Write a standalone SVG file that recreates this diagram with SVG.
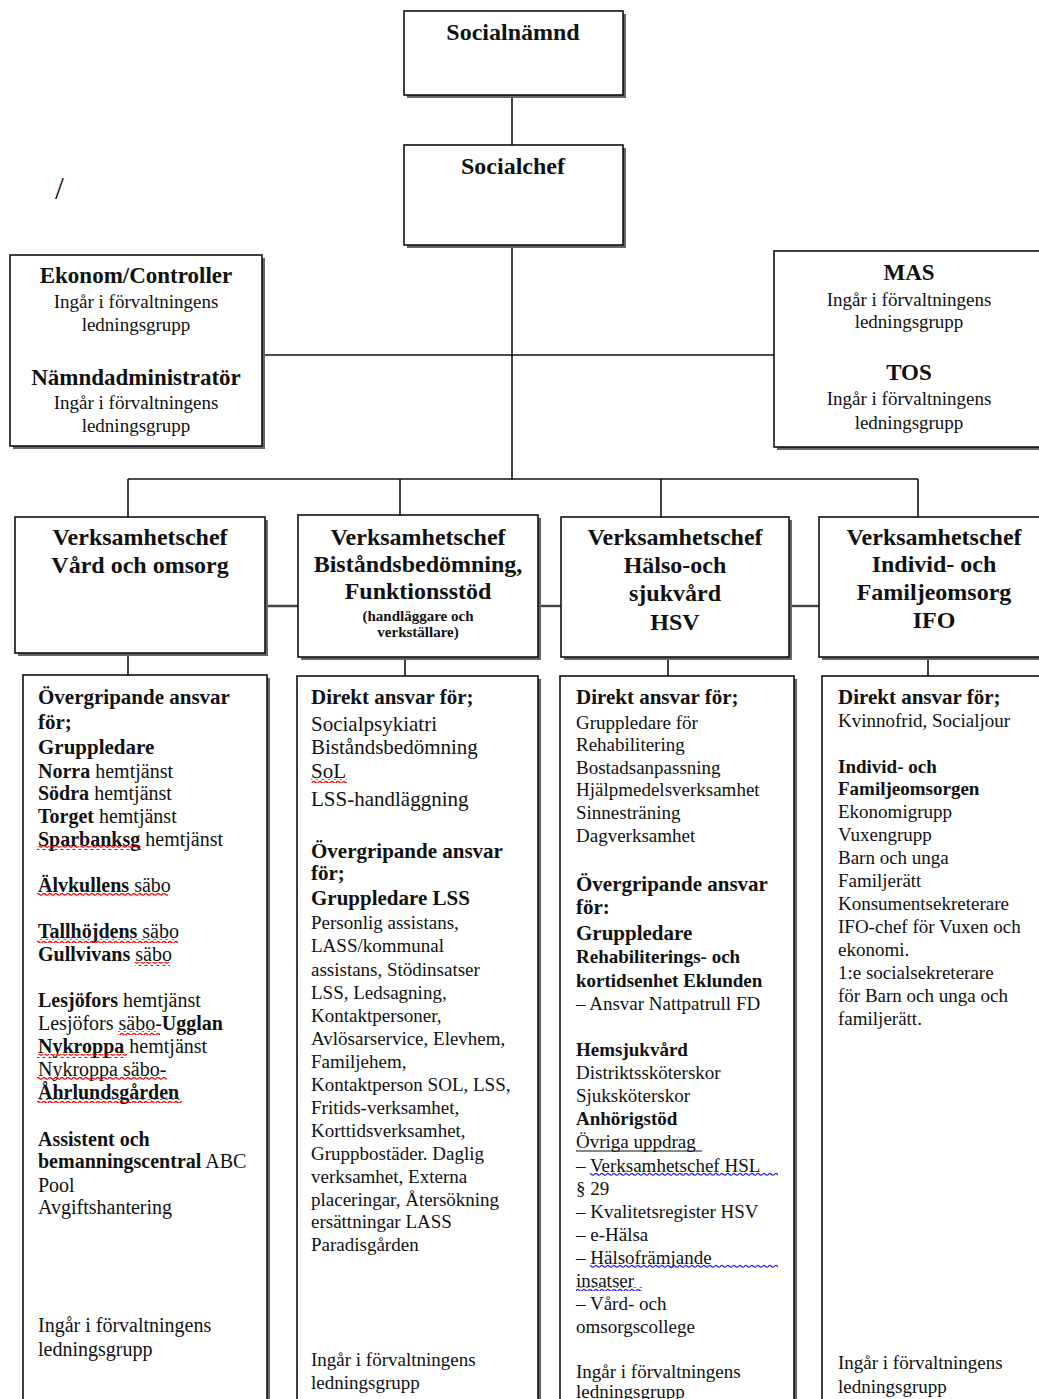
<svg xmlns="http://www.w3.org/2000/svg" width="1039" height="1399" viewBox="0 0 1039 1399">
<style>
text{font-family:"Liberation Serif","Times New Roman",serif;fill:#111}
.hd{font-size:24px;font-weight:bold;text-anchor:middle}
.ht{font-size:23px;font-weight:bold;text-anchor:middle}
.sc{font-size:19px;text-anchor:middle}
.sm{font-size:15px;font-weight:bold;text-anchor:middle}
.bh{font-size:21px;font-weight:bold}
.b{font-weight:bold}
.t{font-size:20px}
.tl{font-size:21px}
.ts{font-size:19px}
.box{fill:#fff;stroke:#111;stroke-width:1.6}
.sh{fill:#666}
.cn line{stroke:#111;stroke-width:1.6}
</style>
<defs>
<pattern id="sqR" width="6" height="4" patternUnits="userSpaceOnUse"><path d="M0,3 Q1.5,0.5 3,2 T6,3" fill="none" stroke="#e00" stroke-width="1.2"/></pattern>
<pattern id="sqB" width="6" height="4" patternUnits="userSpaceOnUse"><path d="M0,3 Q1.5,0.5 3,2 T6,3" fill="none" stroke="#22d" stroke-width="1.2"/></pattern>
</defs>
<rect width="1039" height="1399" fill="#fff"/>

<g class="cn" id="connectors">
<line x1="512" y1="95" x2="512" y2="145"/>
<line x1="512" y1="243" x2="512" y2="480"/>
<line x1="262" y1="355" x2="774" y2="355"/>
<line x1="128" y1="479" x2="918" y2="479"/>
<line x1="128" y1="479" x2="128" y2="517"/>
<line x1="400" y1="479" x2="400" y2="515"/>
<line x1="661" y1="479" x2="661" y2="517"/>
<line x1="918" y1="479" x2="918" y2="517"/>
<line x1="265" y1="606" x2="298" y2="606" style="stroke:#444;stroke-width:2.4"/>
<line x1="538" y1="606" x2="561" y2="606" style="stroke:#444;stroke-width:2.4"/>
<line x1="789" y1="606" x2="819" y2="606" style="stroke:#444;stroke-width:2.4"/>
<line x1="128" y1="653" x2="128" y2="675"/>
<line x1="405" y1="657" x2="405" y2="676"/>
<line x1="668" y1="657" x2="668" y2="676"/>
<line x1="928" y1="657" x2="928" y2="676"/>
</g>

<text x="55" y="199" style="font-size:32px">/</text>

<g id="socialnamnd">
<rect class="sh" x="407" y="14" width="219" height="84"/>
<rect class="box" x="404" y="11" width="219" height="84"/>
<text class="hd" x="513" y="40">Socialnämnd</text>
</g>

<g id="socialchef">
<rect class="sh" x="407" y="148" width="219" height="100"/>
<rect class="box" x="404" y="145" width="219" height="100"/>
<text class="hd" x="513" y="174">Socialchef</text>
</g>

<g id="ekonom">
<rect class="sh" x="13" y="258" width="252" height="191"/>
<rect class="box" x="10" y="255" width="252" height="191"/>
<text class="ht" x="136" y="283">Ekonom/Controller</text>
<text class="sc" x="136" y="308">Ingår i förvaltningens</text>
<text class="sc" x="136" y="331">ledningsgrupp</text>
<text class="ht" x="136" y="385">Nämndadministratör</text>
<text class="sc" x="136" y="409">Ingår i förvaltningens</text>
<text class="sc" x="136" y="432">ledningsgrupp</text>
</g>

<g id="mas">
<rect class="sh" x="777" y="254" width="270" height="196"/>
<rect class="box" x="774" y="251" width="270" height="196"/>
<text class="ht" x="909" y="280">MAS</text>
<text class="sc" x="909" y="306">Ingår i förvaltningens</text>
<text class="sc" x="909" y="328">ledningsgrupp</text>
<text class="ht" x="909" y="380">TOS</text>
<text class="sc" x="909" y="405">Ingår i förvaltningens</text>
<text class="sc" x="909" y="429">ledningsgrupp</text>
</g>

<g id="vc-vard">
<rect class="sh" x="18" y="520" width="250" height="136"/>
<rect class="box" x="15" y="517" width="250" height="136"/>
<text class="hd" x="140" y="545">Verksamhetschef</text>
<text class="hd" x="140" y="573">Vård och omsorg</text>
</g>

<g id="vc-bistand">
<rect class="sh" x="301" y="518" width="240" height="142"/>
<rect class="box" x="298" y="515" width="240" height="142"/>
<text class="hd" x="418" y="545">Verksamhetschef</text>
<text class="hd" x="418" y="572">Biståndsbedömning,</text>
<text class="hd" x="418" y="599">Funktionsstöd</text>
<text class="sm" x="418" y="621">(handläggare och</text>
<text class="sm" x="418" y="637">verkställare)</text>
</g>

<g id="vc-hsv">
<rect class="sh" x="564" y="520" width="228" height="140"/>
<rect class="box" x="561" y="517" width="228" height="140"/>
<text class="hd" x="675" y="545">Verksamhetschef</text>
<text class="hd" x="675" y="573">Hälso-och</text>
<text class="hd" x="675" y="601">sjukvård</text>
<text class="hd" x="675" y="630">HSV</text>
</g>

<g id="vc-ifo">
<rect class="sh" x="822" y="520" width="225" height="140"/>
<rect class="box" x="819" y="517" width="225" height="140"/>
<text class="hd" x="934" y="545">Verksamhetschef</text>
<text class="hd" x="934" y="572">Individ- och</text>
<text class="hd" x="934" y="600">Familjeomsorg</text>
<text class="hd" x="934" y="628">IFO</text>
</g>

<g id="col-vard">
<rect class="sh" x="26" y="678" width="244" height="740"/>
<rect class="box" x="23" y="675" width="244" height="740"/>
<text class="bh" x="38" y="704">Övergripande ansvar</text>
<text class="bh" x="38" y="729">för;</text>
<text class="bh" x="38" y="754">Gruppledare</text>
<text class="t" x="38" y="778"><tspan class="b">Norra</tspan> hemtjänst</text>
<text class="t" x="38" y="800"><tspan class="b">Södra</tspan> hemtjänst</text>
<text class="t" x="38" y="823"><tspan class="b">Torget</tspan> hemtjänst</text>
<text class="t" x="38" y="846"><tspan class="b">Sparbanksg</tspan> hemtjänst</text>
<text class="t" x="38" y="892"><tspan class="b">Älvkullens</tspan> säbo</text>
<text class="t" x="38" y="938"><tspan class="b">Tallhöjdens</tspan> säbo</text>
<text class="t" x="38" y="961"><tspan class="b">Gullvivans</tspan> säbo</text>
<text class="t" x="38" y="1007"><tspan class="b">Lesjöfors</tspan> hemtjänst</text>
<text class="t" x="38" y="1030">Lesjöfors säbo-<tspan class="b">Ugglan</tspan></text>
<text class="t" x="38" y="1053"><tspan class="b">Nykroppa</tspan> hemtjänst</text>
<text class="t" x="38" y="1076">Nykroppa säbo-</text>
<text class="t b" x="38" y="1099">Åhrlundsgården</text>
<text class="t b" x="38" y="1146">Assistent och</text>
<text class="t" x="38" y="1168"><tspan class="b">bemanningscentral</tspan> ABC</text>
<text class="t" x="38" y="1192">Pool</text>
<text class="t" x="38" y="1214">Avgiftshantering</text>
<text class="t" x="38" y="1332">Ingår i förvaltningens</text>
<text class="t" x="38" y="1356">ledningsgrupp</text>
<rect x="37" y="846" width="104" height="4" fill="url(#sqR)"/>
<rect x="37" y="893" width="131" height="4" fill="url(#sqR)"/>
<rect x="37" y="939" width="141" height="4" fill="url(#sqR)"/>
<rect x="135" y="962" width="35" height="4" fill="url(#sqR)"/>
<rect x="118" y="1031" width="42" height="4" fill="url(#sqR)"/>
<rect x="37" y="1054" width="90" height="4" fill="url(#sqR)"/>
<rect x="37" y="1077" width="130" height="4" fill="url(#sqR)"/>
<rect x="37" y="1099" width="145" height="4" fill="url(#sqR)"/>
</g>

<g id="col-bistand">
<rect class="sh" x="300" y="679" width="241" height="740"/>
<rect class="box" x="297" y="676" width="241" height="740"/>
<text class="bh" x="311" y="704">Direkt ansvar för;</text>
<text class="tl" x="311" y="731">Socialpsykiatri</text>
<text class="tl" x="311" y="754">Biståndsbedömning</text>
<text class="tl" x="311" y="778">SoL</text>
<text class="tl" x="311" y="806">LSS-handläggning</text>
<text class="bh" x="311" y="858">Övergripande ansvar</text>
<text class="bh" x="311" y="880">för;</text>
<text class="bh" x="311" y="905">Gruppledare LSS</text>
<text class="ts" x="311" y="929">Personlig assistans,</text>
<text class="ts" x="311" y="952">LASS/kommunal</text>
<text class="ts" x="311" y="976">assistans, Stödinsatser</text>
<text class="ts" x="311" y="999">LSS, Ledsagning,</text>
<text class="ts" x="311" y="1022">Kontaktpersoner,</text>
<text class="ts" x="311" y="1045">Avlösarservice, Elevhem,</text>
<text class="ts" x="311" y="1068">Familjehem,</text>
<text class="ts" x="311" y="1091">Kontaktperson SOL, LSS,</text>
<text class="ts" x="311" y="1114">Fritids-verksamhet,</text>
<text class="ts" x="311" y="1137">Korttidsverksamhet,</text>
<text class="ts" x="311" y="1160">Gruppbostäder. Daglig</text>
<text class="ts" x="311" y="1183">verksamhet, Externa</text>
<text class="ts" x="311" y="1206">placeringar, Återsökning</text>
<text class="ts" x="311" y="1228">ersättningar LASS</text>
<text class="ts" x="311" y="1251">Paradisgården</text>
<text class="ts" x="311" y="1366">Ingår i förvaltningens</text>
<text class="ts" x="311" y="1389">ledningsgrupp</text>
<rect x="311" y="779" width="36" height="4" fill="url(#sqR)"/>
</g>

<g id="col-hsv">
<rect class="sh" x="563" y="679" width="234" height="740"/>
<rect class="box" x="560" y="676" width="234" height="740"/>
<text class="bh" x="576" y="704">Direkt ansvar för;</text>
<text class="ts" x="576" y="729">Gruppledare för</text>
<text class="ts" x="576" y="751">Rehabilitering</text>
<text class="ts" x="576" y="774">Bostadsanpassning</text>
<text class="ts" x="576" y="796">Hjälpmedelsverksamhet</text>
<text class="ts" x="576" y="819">Sinnesträning</text>
<text class="ts" x="576" y="842">Dagverksamhet</text>
<text class="bh" x="576" y="891">Övergripande ansvar</text>
<text class="bh" x="576" y="914">för:</text>
<text class="bh" x="576" y="940">Gruppledare</text>
<text class="ts b" x="576" y="963">Rehabiliterings- och</text>
<text class="ts b" x="576" y="987">kortidsenhet Eklunden</text>
<text class="ts" x="576" y="1010">– Ansvar Nattpatrull FD</text>
<text class="ts b" x="576" y="1056">Hemsjukvård</text>
<text class="ts" x="576" y="1079">Distriktssköterskor</text>
<text class="ts" x="576" y="1102">Sjuksköterskor</text>
<text class="ts b" x="576" y="1125">Anhörigstöd</text>
<text class="ts" x="576" y="1148">Övriga uppdrag</text>
<line x1="576" y1="1151" x2="702" y2="1151" stroke="#111" stroke-width="1"/>
<text class="ts" x="576" y="1172">– Verksamhetschef HSL</text>
<text class="ts" x="576" y="1195">§ 29</text>
<text class="ts" x="576" y="1218">– Kvalitetsregister HSV</text>
<text class="ts" x="576" y="1241">– e-Hälsa</text>
<text class="ts" x="576" y="1264">– Hälsofrämjande</text>
<text class="ts" x="576" y="1287">insatser</text>
<text class="ts" x="576" y="1310">– Vård- och</text>
<text class="ts" x="576" y="1333">omsorgscollege</text>
<text class="ts" x="576" y="1378">Ingår i förvaltningens</text>
<text class="ts" x="576" y="1398">ledningsgrupp</text>
<rect x="590" y="1172" width="188" height="4" fill="url(#sqB)"/>
<rect x="590" y="1264" width="188" height="4" fill="url(#sqB)"/>
<rect x="576" y="1287" width="66" height="4" fill="url(#sqB)"/>
</g>

<g id="col-ifo">
<rect class="sh" x="825" y="679" width="225" height="740"/>
<rect class="box" x="822" y="676" width="225" height="740"/>
<text class="bh" x="838" y="704">Direkt ansvar för;</text>
<text class="ts" x="838" y="727">Kvinnofrid, Socialjour</text>
<text class="ts b" x="838" y="773">Individ- och</text>
<text class="ts b" x="838" y="795">Familjeomsorgen</text>
<text class="ts" x="838" y="818">Ekonomigrupp</text>
<text class="ts" x="838" y="841">Vuxengrupp</text>
<text class="ts" x="838" y="864">Barn och unga</text>
<text class="ts" x="838" y="887">Familjerätt</text>
<text class="ts" x="838" y="910">Konsumentsekreterare</text>
<text class="ts" x="838" y="933">IFO-chef för Vuxen och</text>
<text class="ts" x="838" y="956">ekonomi.</text>
<text class="ts" x="838" y="979">1:e socialsekreterare</text>
<text class="ts" x="838" y="1002">för Barn och unga och</text>
<text class="ts" x="838" y="1025">familjerätt.</text>
<text class="ts" x="838" y="1369">Ingår i förvaltningens</text>
<text class="ts" x="838" y="1393">ledningsgrupp</text>
</g>
</svg>
